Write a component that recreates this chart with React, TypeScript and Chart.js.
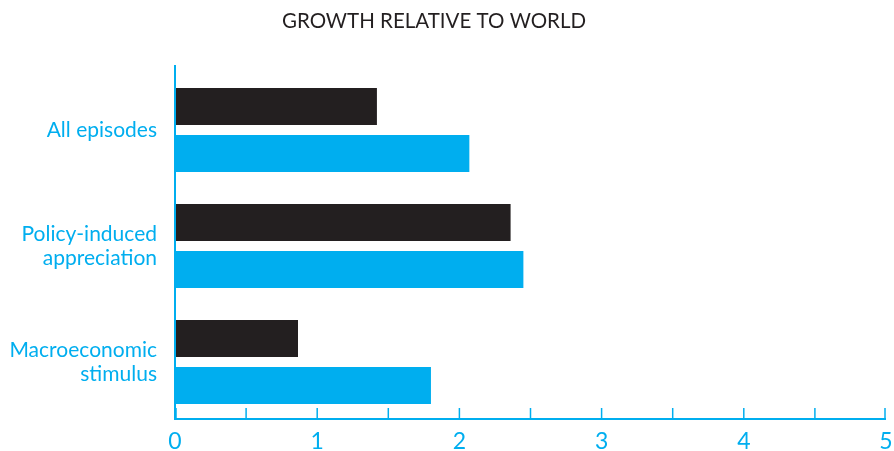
import React, { useEffect, useRef } from "react";
import { Chart, registerables } from "chart.js";

Chart.register(...registerables);

const categories: string[][] = [["All episodes"], ["Policy-induced", "appreciation"], ["Macroeconomic", "stimulus"]];
const seriesBlack: number[] = [1.42, 2.36, 0.865];
const seriesCyan: number[] = [2.07, 2.45, 1.8];
const xTickValues: number[] = [0, 0.5, 1, 1.5, 2, 2.5, 3, 3.5, 4, 4.5, 5];
const titleText = "GROWTH RELATIVE TO WORLD";

const CYAN = "#00AEEF";
const BLACK = "#231F20";
const FONT = "Lato, 'Open Sans', sans-serif";

const decorPlugin = {
  id: "decor",
  afterDraw(chart: any) {
    const ctx = chart.ctx;
    const xs = chart.scales.x;
    const area = chart.chartArea;
    ctx.save();
    ctx.strokeStyle = CYAN;
    ctx.lineWidth = 2;
    ctx.beginPath();
    ctx.moveTo(area.left, area.top - 7);
    ctx.lineTo(area.left, area.bottom);
    ctx.stroke();
    ctx.beginPath();
    ctx.moveTo(area.left, area.bottom - 1);
    ctx.lineTo(area.right, area.bottom - 1);
    ctx.stroke();
    ctx.lineWidth = 1.5;
    xTickValues.forEach((v) => {
      const px = Math.min(Math.max(xs.getPixelForValue(v), area.left + 1), area.right - 1);
      ctx.beginPath();
      ctx.moveTo(px, area.bottom - 12);
      ctx.lineTo(px, area.bottom);
      ctx.stroke();
    });
    ctx.fillStyle = BLACK;
    ctx.font = `20.5px ${FONT}`;
    ctx.textAlign = "center";
    ctx.textBaseline = "middle";
    ctx.fillText(titleText, 434, 21);
    ctx.restore();
  },
};

export default function App() {
  const ref = useRef<HTMLCanvasElement | null>(null);
  useEffect(() => {
    document.body.style.margin = "0";
    if (!ref.current) return;
    const chart = new Chart(ref.current, {
      type: "bar",
      data: {
        labels: categories,
        datasets: [
          { data: seriesBlack, backgroundColor: BLACK, categoryPercentage: 0.81, barPercentage: 0.787 },
          { data: seriesCyan, backgroundColor: CYAN, categoryPercentage: 0.81, barPercentage: 0.787 },
        ],
      },
      options: {
        indexAxis: "y",
        animation: false,
        responsive: false,
        layout: { padding: { top: 72, right: 0, left: 0, bottom: 0 } },
        plugins: { legend: { display: false }, title: { display: false }, tooltip: { enabled: false } },
        scales: {
          x: {
            min: 0,
            max: 5,
            grid: { display: false, drawTicks: false },
            border: { display: false },
            afterBuildTicks: (scale: any) => {
              scale.ticks = xTickValues.map((v) => ({ value: v }));
            },
            afterFit: (scale: any) => {
              scale.height = 31;
              scale.paddingRight = 8;
            },
            ticks: {
              color: CYAN,
              font: { family: FONT, size: 23, lineHeight: 1 },
              padding: 10,
              autoSkip: false,
              maxRotation: 0,
              callback: (v: any) => (Number(v) % 1 === 0 ? String(v) : ""),
            },
          },
          y: {
            grid: { display: false, drawTicks: false },
            border: { display: false },
            afterFit: (scale: any) => {
              scale.width = 175;
            },
            ticks: {
              color: CYAN,
              font: { family: FONT, size: 21, lineHeight: 1.15 },
              padding: 18,
            },
          },
        },
      },
      plugins: [decorPlugin],
    });
    return () => chart.destroy();
  }, []);
  return (
    <div style={{ width: 894, height: 451 }}>
      <canvas ref={ref} width={894} height={451} style={{ display: "block" }} />
    </div>
  );
}
